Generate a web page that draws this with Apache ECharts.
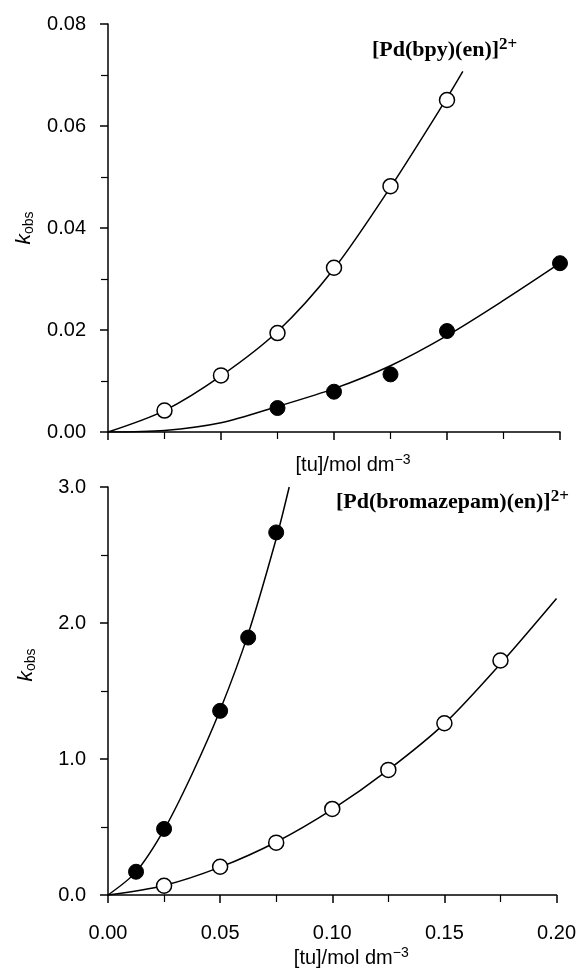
<!DOCTYPE html>
<html>
<head>
<meta charset="utf-8">
<title>kobs vs [tu]</title>
<script src="https://cdn.jsdelivr.net/npm/echarts@6/dist/echarts.min.js"></script>
<style>
  html, body { margin: 0; padding: 0; background: #fff; }
  #main { width: 579px; height: 970px; }
</style>
</head>
<body>
<div id="main"></div>
<script type="text/javascript">
    // top panel: [Pd(bpy)(en)]2+
    var bpyOpen = [[0.025, 0.0042], [0.05, 0.0111], [0.075, 0.0194], [0.1, 0.0322], [0.125, 0.0482], [0.15, 0.0651]];
    var bpyFilled = [[0.075, 0.0047], [0.1, 0.0079], [0.125, 0.0113], [0.15, 0.0198], [0.2, 0.0331]];
    // fitted curves
    var bpyOpenFit = [[0, 0], [0.025, 0.0042], [0.05, 0.0110], [0.075, 0.0197], [0.1, 0.0320], [0.125, 0.0480], [0.15, 0.0655], [0.157, 0.0707]];
    var bpyFilledFit = [[0, 0], [0.025, 0.0003], [0.05, 0.0018], [0.075, 0.0050], [0.1, 0.0085], [0.125, 0.0130], [0.15, 0.0189], [0.175, 0.0258], [0.2, 0.0331]];

    // bottom panel: [Pd(bromazepam)(en)]2+
    var bzFilled = [[0.0125, 0.171], [0.025, 0.486], [0.05, 1.354], [0.0625, 1.893], [0.075, 2.666]];
    var bzOpen = [[0.025, 0.068], [0.05, 0.208], [0.075, 0.385], [0.1, 0.633], [0.125, 0.920], [0.15, 1.263], [0.175, 1.724]];
    var bzFilledFit = [[0, 0], [0.0125, 0.17], [0.025, 0.48], [0.0375, 0.89], [0.05, 1.36], [0.0625, 1.92], [0.075, 2.62], [0.0808, 3.0]];
    var bzOpenFit = [[0, 0], [0.025, 0.07], [0.05, 0.205], [0.075, 0.39], [0.1, 0.63], [0.125, 0.92], [0.15, 1.26], [0.175, 1.70], [0.2, 2.18]];

    var sans = '"Liberation Sans", Arial, Helvetica, sans-serif';
    var serif = '"Liberation Serif", "Times New Roman", serif';

    //公共轴样式
    var axisLine = {show: true, lineStyle: {color: '#000', width: 1.5}};
    var axisTick = {show: true, length: 8, lineStyle: {color: '#000', width: 1.5}};
    var minorTick = {show: true, splitNumber: 2, length: 7, lineStyle: {color: '#000', width: 1.2}};
    var tuName = '{a|[tu]/mol dm}{s|\u22123}';
    var tuStyle = {
        color: '#000',
        padding: [0, 0, 0, 38],
        rich: {
            a: {fontFamily: sans, fontSize: 20, lineHeight: 24, color: '#000'},
            s: {fontFamily: sans, fontSize: 14, lineHeight: 14, verticalAlign: 'top', color: '#000'}
        }
    };
    var kName = '{k|k}{s|obs}';
    var kRich = {
        k: {fontFamily: sans, fontSize: 21, fontStyle: 'italic', lineHeight: 24, color: '#000'},
        s: {fontFamily: sans, fontSize: 14, lineHeight: 14, verticalAlign: 'bottom', color: '#000'}
    };
    var labelRich = {
        a: {fontFamily: serif, fontWeight: 'bold', fontSize: 22, lineHeight: 28, fill: '#000'},
        b: {fontFamily: serif, fontWeight: 'bold', fontSize: 17, lineHeight: 17, verticalAlign: 'top', fill: '#000'}
    };

    function openSymbol(data, xi, yi) {
        return {
            type: 'scatter', xAxisIndex: xi, yAxisIndex: yi, data: data,
            symbol: 'circle', symbolSize: 15, z: 5,
            itemStyle: {color: '#fff', borderColor: '#000', borderWidth: 1.5, opacity: 1}
        };
    }
    function filledSymbol(data, xi, yi) {
        return {
            type: 'scatter', xAxisIndex: xi, yAxisIndex: yi, data: data,
            symbol: 'circle', symbolSize: 15, z: 5,
            itemStyle: {color: '#000', borderColor: '#000', borderWidth: 1, opacity: 1}
        };
    }
    function fitLine(data, xi, yi) {
        return {
            type: 'line', xAxisIndex: xi, yAxisIndex: yi, data: data,
            smooth: 0.3, showSymbol: false, z: 3,
            lineStyle: {color: '#000', width: 1.5}
        };
    }

    var chart = echarts.init(document.getElementById('main'));
    chart.setOption({
        animation: false,
        backgroundColor: '#fff',
        grid: [
            {left: 108, width: 452, top: 24, height: 408},
            {left: 108, width: 452, top: 487, height: 408}
        ],
        xAxis: [
            {
                gridIndex: 0, type: 'value', min: 0, max: 0.2, interval: 0.05,
                axisLine: axisLine, axisTick: axisTick, minorTick: minorTick,
                splitLine: {show: false},
                axisLabel: {show: false},
                name: tuName, nameLocation: 'middle', nameGap: 21, nameTextStyle: tuStyle
            },
            {
                gridIndex: 1, type: 'value', min: 0, max: 0.2, interval: 0.05,
                axisLine: axisLine, axisTick: axisTick, minorTick: minorTick,
                splitLine: {show: false},
                axisLabel: {
                    color: '#000', fontFamily: sans, fontSize: 20, margin: 28,
                    formatter: function (v) { return v.toFixed(2); }
                },
                name: tuName, nameLocation: 'middle', nameGap: 51, nameTextStyle: tuStyle
            }
        ],
        yAxis: [
            {
                gridIndex: 0, type: 'value', min: 0, max: 0.08, interval: 0.02,
                axisLine: axisLine, axisTick: axisTick, minorTick: minorTick,
                splitLine: {show: false},
                axisLabel: {
                    color: '#000', fontFamily: sans, fontSize: 20, margin: 22,
                    formatter: function (v) { return v.toFixed(2); }
                },
                name: kName, nameLocation: 'middle', nameRotate: 90, nameGap: 70,
                nameTextStyle: {color: '#000', rich: kRich}
            },
            {
                gridIndex: 1, type: 'value', min: 0, max: 3, interval: 1,
                axisLine: axisLine, axisTick: axisTick, minorTick: minorTick,
                splitLine: {show: false},
                axisLabel: {
                    color: '#000', fontFamily: sans, fontSize: 20, margin: 22,
                    formatter: function (v) { return v.toFixed(1); }
                },
                name: kName, nameLocation: 'middle', nameRotate: 90, nameGap: 70,
                nameTextStyle: {color: '#000', padding: [0, 0, 0, 52], rich: kRich}
            }
        ],
        graphic: [
            {
                type: 'text', left: 372, top: 36,
                style: {text: '{a|[Pd(bpy)(en)]}{b|2+}', rich: labelRich}
            },
            {
                type: 'text', left: 336, top: 488,
                style: {text: '{a|[Pd(bromazepam)(en)]}{b|2+}', rich: labelRich}
            }
        ],
        series: [
            fitLine(bpyOpenFit, 0, 0),
            fitLine(bpyFilledFit, 0, 0),
            openSymbol(bpyOpen, 0, 0),
            filledSymbol(bpyFilled, 0, 0),
            fitLine(bzFilledFit, 1, 1),
            fitLine(bzOpenFit, 1, 1),
            filledSymbol(bzFilled, 1, 1),
            openSymbol(bzOpen, 1, 1)
        ]
    });
</script>
</body>
</html>
